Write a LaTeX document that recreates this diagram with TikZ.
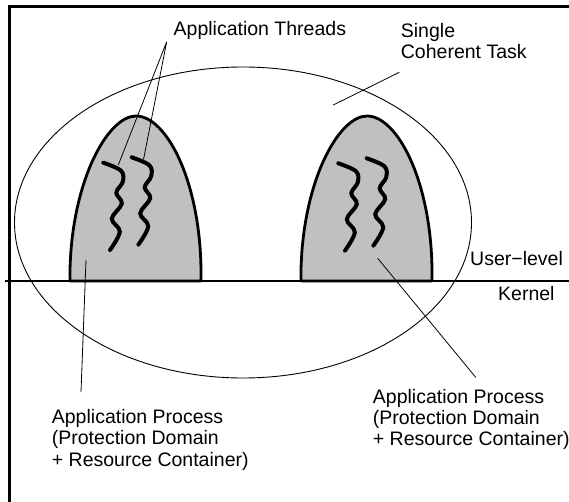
\documentclass[tikz,border=0pt]{standalone}
\usepackage{fontspec}
\setmainfont{Liberation Sans}
\definecolor{domegray}{RGB}{192,192,192}
\begin{document}
\begin{tikzpicture}[x=1pt,y=-1pt,
  frame/.style={line width=3pt},
  divider/.style={line width=2.5pt},
  taskline/.style={line width=0.9pt},
  dome/.style={fill=domegray, draw=black, line width=2.8pt, line join=round},
  thread/.style={line width=4pt, line cap=round},
  leader/.style={line width=0.8pt},
  lbl/.style={font=\fontsize{19.5}{21.3}\selectfont, inner sep=0pt, align=left}]
\useasboundingbox (0,0) rectangle (569,502);
% frame
\draw[frame] (9,502) -- (9,6.3) -- (569,6.3);
% user/kernel divider
\draw[divider] (5,281) -- (569,281);
% single coherent task
\draw[taskline] (243,222.5) ellipse [x radius=228.5pt, y radius=155.5pt];
% domes (application processes)
\draw[dome] (70,281) -- (70,270) .. controls (72,180) and (108,116) .. (136,116)
  .. controls (166,116) and (200,180) .. (201,270) -- (201,281) -- cycle;
\draw[dome, shift={(231,0)}] (70,281) -- (70,270) .. controls (72,180) and (108,116) .. (136,116)
  .. controls (166,116) and (200,180) .. (201,270) -- (201,281) -- cycle;
% threads
\foreach \sx/\sy in {103.3/162.7, 131.7/157.3, 338.3/163.3, 366.7/158.3}{
  \draw[thread, shift={(\sx,\sy)}] plot[smooth, tension=0.6] coordinates
    {(0,0) (17.7,8) (19.5,19) (13,30) (18.5,41) (8.5,56) (16.5,69) (6.7,87.3)};
}
% labels
\node[lbl, anchor=base west] (threads) at (173.5,36) {Application Threads};
\node[lbl, anchor=north west] (task) at (400.7,23.2) {Single\\Coherent Task};
\node[lbl, anchor=base west] (user) at (470,265) {User−level};
\node[lbl, anchor=base west] (kernel) at (498,300) {Kernel};
\node[lbl, anchor=north west] (procL) at (51.7,409.2) {Application Process\\(Protection Domain\\+ Resource Container)};
\node[lbl, anchor=north west] (procR) at (372.7,388.9) {Application Process\\(Protection Domain\\+ Resource Container)};
% leader lines
\coordinate (thrApex) at (166.7,41.7);
\coordinate (thrA) at (118.3,165);
\coordinate (thrB) at (143.5,159.5);
\draw[leader] (thrA) -- (thrApex) -- (thrB);
\coordinate (taskTail) at (399.3,72.3);
\coordinate (taskHead) at (333.3,105);
\draw[leader] (taskTail) -- (taskHead);
\coordinate (procLTop) at (86,260);
\coordinate (procLEnd) at (81,392);
\draw[leader] (procLTop) -- (procLEnd);
\coordinate (procRTop) at (377.7,258.3);
\coordinate (procREnd) at (475.7,377.3);
\draw[leader] (procRTop) -- (procREnd);
\end{tikzpicture}
\end{document}
